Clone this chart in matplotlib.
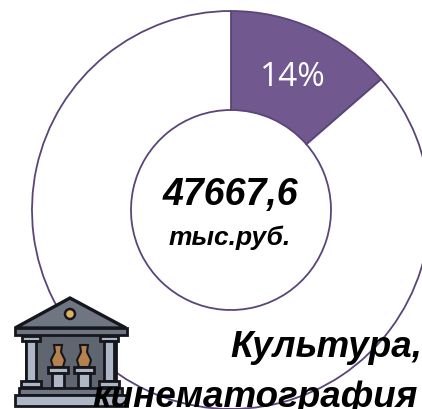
import matplotlib
matplotlib.use('Agg')
import matplotlib.pyplot as plt
from matplotlib.patches import Polygon, Rectangle, Circle

# Доля расходов
shares = [13.6, 86.4]
share_label = '14%'
total_label = '47667,6'
unit_label = 'тыс.руб.'
title_lines = ['Культура,', 'кинематография']

W, H = 422, 409
FONT = 'Liberation Sans'
purple = '#71588F'
edge = '#5A4578'

fig = plt.figure(figsize=(W / 100, H / 100), dpi=100)
ax = fig.add_axes([0, 0, 1, 1])

cx, cy = 231, H - 210
R = 199
wedges, _ = ax.pie(shares, colors=[purple, 'white'], startangle=90, counterclock=False,
                   center=(cx, cy), radius=R, frame=True,
                   wedgeprops=dict(width=R - 100, edgecolor=edge, linewidth=1.3))
ax.set_xlim(0, W)
ax.set_ylim(0, H)
ax.set_aspect('equal')
ax.axis('off')


def Y(y):
    return H - y


def rect(x0, y0, x1, y1, color, z=3, lw=2.0):
    ax.add_patch(Rectangle((x0, Y(y1)), x1 - x0, y1 - y0, facecolor=color,
                           edgecolor='#15171c', linewidth=lw, zorder=z))


# значок музея
dark = '#5F6670'
mid = '#6F7682'
light = '#AEB7C5'
brown = '#B5814E'
ax.add_patch(Polygon([(70, Y(298)), (126, Y(328)), (15, Y(328))], closed=True, facecolor=mid,
                     edgecolor='#15171c', linewidth=2.4, zorder=3))
ax.add_patch(Circle((70, Y(314)), 5, facecolor='#E0B060', edgecolor='#15171c', linewidth=1.8, zorder=4))
rect(26, 334, 116, 392, dark)
rect(15, 328, 127, 335, mid)
for x0 in (22, 100):
    rect(x0, 336, x0 + 18, 341, light, 4)
    rect(x0 + 4, 341, x0 + 14, 381, light, 4)
    rect(x0 - 1, 381, x0 + 19, 387, light, 4)
for xc in (58, 84):
    ax.add_patch(Polygon([(xc - 4, Y(345)), (xc + 4, Y(345)), (xc + 3, Y(352)), (xc + 7, Y(360)),
                          (xc + 5, Y(367)), (xc - 5, Y(367)), (xc - 7, Y(360)), (xc - 3, Y(352))],
                         closed=True, facecolor=brown, edgecolor='#15171c', linewidth=1.5, zorder=4))
    rect(xc - 10, 367, xc + 10, 373, light, 4)
    rect(xc - 6, 373, xc + 6, 388, light, 4)
rect(19, 388, 122, 395, mid, 4)
rect(15, 395, 127, 406, light, 4)

# подписи
ax.text(293, Y(77), share_label, color='white', fontsize=24, family='Open Sans', ha='center', va='center', zorder=6)
ax.text(230, Y(195), total_label, color='black', fontsize=27, family=FONT, fontweight='bold',
        fontstyle='italic', ha='center', va='center', zorder=6)
ax.text(230, Y(238), unit_label, color='black', fontsize=19, family=FONT, fontweight='bold',
        fontstyle='italic', ha='center', va='center', zorder=6)
ax.text(230, Y(357), title_lines[0], color='black', fontsize=26.5, family=FONT, fontweight='bold',
        fontstyle='italic', ha='left', va='baseline', zorder=6)
ax.text(92, Y(407), title_lines[1], color='black', fontsize=26.5, family=FONT, fontweight='bold',
        fontstyle='italic', ha='left', va='baseline', zorder=6)

fig.savefig('out.png', dpi=100)
